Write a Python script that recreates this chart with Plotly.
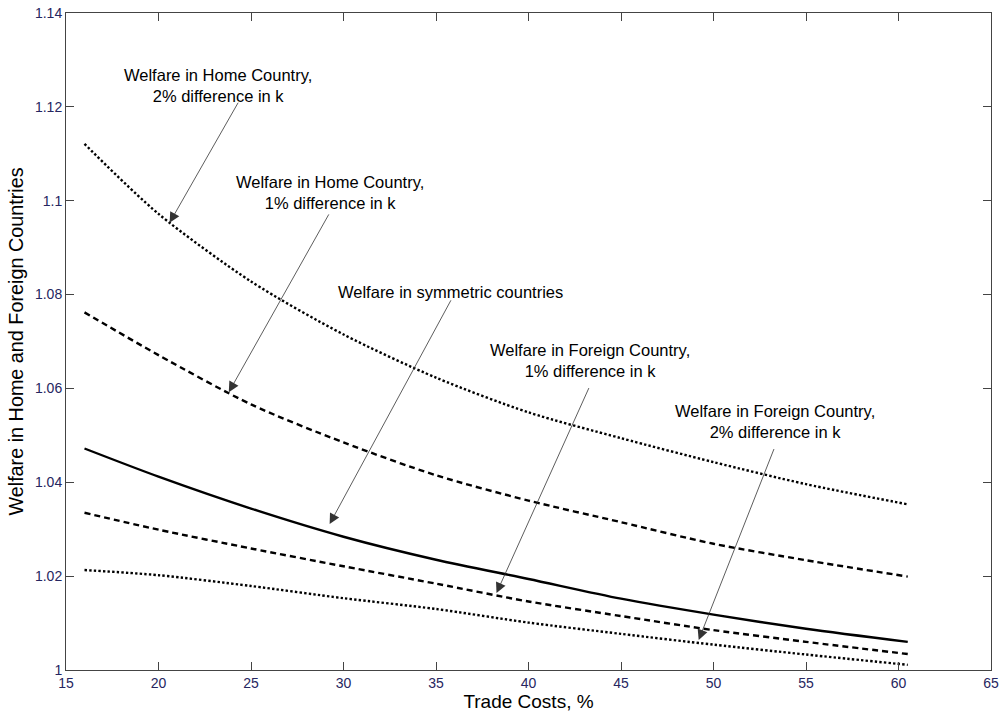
import plotly.graph_objects as go

trade_costs = [16, 20, 25, 30, 35, 40, 45, 50, 55, 60.5]
home_2pct = [1.1121, 1.0972, 1.0828, 1.0715, 1.0623, 1.0549, 1.0494, 1.0443, 1.0396, 1.0353]
home_1pct = [1.0762, 1.0671, 1.0566, 1.0485, 1.0415, 1.0361, 1.0315, 1.0269, 1.0234, 1.0199]
symmetric = [1.0472, 1.0412, 1.0344, 1.0284, 1.0235, 1.0194, 1.0152, 1.0118, 1.0088, 1.0060]
foreign_1pct = [1.0335, 1.0299, 1.0259, 1.0221, 1.0184, 1.0146, 1.0115, 1.0085, 1.0060, 1.0034]
foreign_2pct = [1.0213, 1.0202, 1.0179, 1.0153, 1.0130, 1.0101, 1.0077, 1.0054, 1.0033, 1.0011]

x_ticks = [15, 20, 25, 30, 35, 40, 45, 50, 55, 60, 65]
y_ticks = [1.0, 1.02, 1.04, 1.06, 1.08, 1.10, 1.12, 1.14]
y_tick_labels = ["1", "1.02", "1.04", "1.06", "1.08", "1.1", "1.12", "1.14"]

# annotations: text, text position (x, y), arrow tail (x, y), arrow tip (x, y)
labels = [
    ("Welfare in Home Country,<br>2% difference in k", (23.2, 1.1245), (24.35, 1.1212), (20.6, 1.0953)),
    ("Welfare in Home Country,<br>1% difference in k", (29.25, 1.1017), (29.25, 1.0974), (23.8, 1.0592)),
    ("Welfare in symmetric countries", (35.8, 1.0806), (35.85, 1.0791), (29.25, 1.0311)),
    ("Welfare in Foreign Country,<br>1% difference in k", (43.3, 1.0660), (43.3, 1.0604), (38.27, 1.0164)),
    ("Welfare in Foreign Country,<br>2% difference in k", (53.3, 1.0530), (53.3, 1.0474), (49.2, 1.0064)),
]

FONT = "Liberation Sans, Arial, sans-serif"
line_w = 2.4
fig = go.Figure()
series = [
    ("Home 2%", home_2pct, "2.4px,2.2px"),
    ("Home 1%", home_1pct, "6px,4px"),
    ("Symmetric", symmetric, "solid"),
    ("Foreign 1%", foreign_1pct, "6px,4px"),
    ("Foreign 2%", foreign_2pct, "2.4px,2.2px"),
]
for name, vals, dash in series:
    fig.add_trace(go.Scatter(
        x=trade_costs, y=vals, mode="lines", name=name,
        line=dict(color="black", width=line_w, dash=dash, shape="spline", smoothing=0.8),
        showlegend=False, hoverinfo="skip",
    ))

annotations = []
for text, (tx, ty), (ax, ay), (hx, hy) in labels:
    annotations.append(dict(
        x=tx, y=ty, xref="x", yref="y", text=text, showarrow=False,
        font=dict(family=FONT, size=16.5, color="black"),
        align="center",
    ))
    annotations.append(dict(
        x=hx, y=hy, xref="x", yref="y", ax=ax, ay=ay, axref="x", ayref="y",
        text="", showarrow=True, arrowhead=2, arrowsize=2.6, arrowwidth=0.8,
        arrowcolor="#333333", standoff=0,
    ))

axis_common = dict(
    showline=True, linecolor="#444444", linewidth=1, mirror="ticks",
    ticks="inside", ticklen=8, tickcolor="#444444", tickwidth=1,
    showgrid=False, zeroline=False, automargin=False, ticklabeloverflow="allow",
    tickfont=dict(family=FONT, size=14, color="#262660"),
)

fig.update_layout(
    width=1000, height=715,
    margin=dict(l=66, r=9, t=13, b=45),
    paper_bgcolor="white", plot_bgcolor="white",
    xaxis=dict(range=[15, 65], tickvals=x_ticks, ticktext=[str(v) for v in x_ticks],
               title=dict(text="Trade Costs, %", standoff=4,
                          font=dict(family=FONT, size=19, color="black")),
               **axis_common),
    yaxis=dict(range=[1.0, 1.14], tickvals=y_ticks, ticktext=y_tick_labels,
               title=dict(text="Welfare in Home and Foreign Countries", standoff=6,
                          font=dict(family=FONT, size=19.8, color="black")),
               **axis_common),
    annotations=annotations,
)

fig.write_html("out.html", config={"displayModeBar": False},
               post_script="document.body.style.margin='0';")
